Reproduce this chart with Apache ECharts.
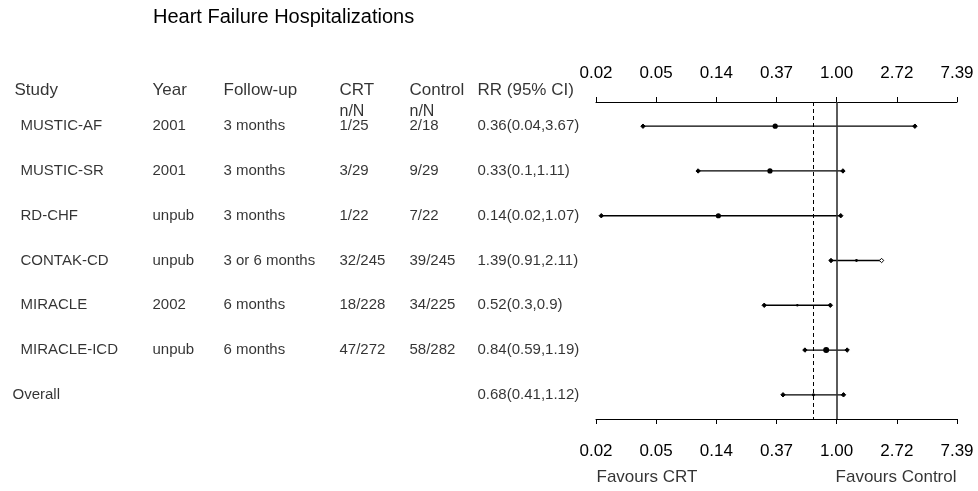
<!DOCTYPE html>
<html><head><meta charset="utf-8">
<script src="https://cdn.jsdelivr.net/npm/echarts@6/dist/echarts.min.js"></script>
<style>html,body{margin:0;padding:0;background:#fff}#c{width:978px;height:491px}</style>
</head><body><div id="c"></div>
<script>
// ---------- data ----------
const studies   = ['MUSTIC-AF','MUSTIC-SR','RD-CHF','CONTAK-CD','MIRACLE','MIRACLE-ICD','Overall'];
const years     = ['2001','2001','unpub','unpub','2002','unpub',''];
const followUp  = ['3 months','3 months','3 months','3 or 6 months','6 months','6 months',''];
const crt       = ['1/25','3/29','1/22','32/245','18/228','47/272',''];
const control   = ['2/18','9/29','7/22','39/245','34/225','58/282',''];
const rr        = [0.36, 0.33, 0.14, 1.39, 0.52, 0.84, 0.68];
const lower     = [0.04, 0.1, 0.02, 0.91, 0.3, 0.59, 0.41];
const upper     = [3.67, 1.11, 1.07, 2.11, 0.9, 1.19, 1.12];
const tickLabels = ['0.02','0.05','0.14','0.37','1.00','2.72','7.39'];
const headers   = ['Study','Year','Follow-up','CRT','Control','RR (95% CI)'];
const subHeaders = ['','','','n/N','n/N',''];
const title = 'Heart Failure Hospitalizations';
const favours = ['Favours CRT','Favours Control'];

// ---------- layout / style ----------
const FONT = 'Liberation Sans, Arial, sans-serif';
const colX = [20, 152, 223, 339, 409, 477];   // study, year, follow-up, crt, control, rr
const headerX = [14, 152, 223, 339, 409, 477];
const overallX = 12;
const headerRowY = -0.80, subHeaderRowY = -0.33, favoursRowY = 7.84;
const markerR = [2.6, 2.6, 2.6, 1.4, 1.2, 3.0, 1.5];
const hollowEnd = [false,false,false,true,false,false,false];
const yMin = -0.54, yMax = 6.54;

const n = studies.length;
const rrText = rr.map((v,i)=> v + '(' + lower[i] + ',' + upper[i] + ')');
const lastIdx = n - 1;

function textSeries(points, fontSize, pos) {
  return {
    type:'scatter', xAxisIndex:2, yAxisIndex:1, symbolSize:1, silent:true, clip:false,
    itemStyle:{color:'transparent'},
    label:{show:true, position:pos||'right', distance:0, color:'#000', fontSize:fontSize, fontFamily:FONT,
      formatter:p=>p.data[2]},
    data:points
  };
}
function forestTextSeries(points, pos) {
  return {
    type:'scatter', xAxisIndex:0, yAxisIndex:0, symbolSize:1, silent:true, clip:false,
    itemStyle:{color:'transparent'},
    label:{show:true, position:pos, distance:0, color:'#000', fontSize:17, fontFamily:FONT,
      formatter:p=>p.data[2]},
    data:points
  };
}

const series = [];
// headers
series.push(textSeries(headers.map((h,j)=>[headerX[j], headerRowY, h]), 17));
series.push(textSeries(subHeaders.map((h,j)=>[headerX[j], subHeaderRowY, h]).filter(d=>d[2]), 16));
// table columns
const cols = [studies, years, followUp, crt, control, rrText];
cols.forEach((col,j)=>{
  series.push(textSeries(col.map((t,i)=>[ (j===0 && i===lastIdx) ? overallX : colX[j], i, t]).filter(d=>d[2]), 15));
});
// favours labels
series.push(forestTextSeries([[-4, favoursRowY, favours[0]]], 'right'));
series.push(forestTextSeries([[2, favoursRowY, favours[1]]], 'left'));

// forest marks
series.push({
  type:'custom', xAxisIndex:0, yAxisIndex:0, clip:false, silent:true,
  data: rr.map((v,i)=>[Math.log(lower[i]), Math.log(upper[i]), Math.log(v), i]),
  encode:{x:[0,1,2], y:3},
  renderItem(params, api){
    const i = params.dataIndex;
    const row = api.value(3);
    const lo = api.coord([api.value(0), row]);
    const hi = api.coord([api.value(1), row]);
    const c  = api.coord([api.value(2), row]);
    const d = 2.2;
    const diamond = (p, hollow)=>({type:'polygon', shape:{points:[[p[0]-d,p[1]],[p[0],p[1]-d],[p[0]+d,p[1]],[p[0],p[1]+d]]},
      style:{fill: hollow ? '#fff' : '#000', stroke:'#000', lineWidth:1}});
    return {type:'group', children:[
      {type:'line', shape:{x1:lo[0], y1:lo[1], x2:hi[0], y2:hi[1]}, style:{stroke:'#000', lineWidth:1.3}},
      diamond(lo, false),
      diamond(hi, hollowEnd[i]),
      {type:'circle', shape:{cx:c[0], cy:c[1], r:markerR[i]}, style:{fill:'#000'}}
    ]};
  }
});
// reference lines
series.push({
  type:'line', xAxisIndex:0, yAxisIndex:0, data:[], silent:true,
  markLine:{silent:true, symbol:['none','none'], label:{show:false}, animation:false,
    data:[
      {xAxis:0, lineStyle:{color:'#333', width:1.6, type:'solid'}},
      {xAxis:Math.log(rr[lastIdx]), lineStyle:{color:'#000', width:1, type:[4,3]}}
    ]}
});

const axisCommon = {
  type:'value', min:-4, max:2, interval:1, gridIndex:0,
  axisLine:{show:true, onZero:false, lineStyle:{color:'#000', width:1}},
  axisTick:{show:true, inside:false, length:5, lineStyle:{color:'#000', width:1}},
  splitLine:{show:false},
};

const option = {
  animation:false,
  backgroundColor:'#fff',
  title:{text:title, left:148, top:2, textStyle:{fontSize:20, fontWeight:'normal', color:'#000', fontFamily:FONT}},
  grid:[
    {left:596, right:21, top:102, bottom:72},
    {left:0, right:0, top:102, bottom:72}
  ],
  xAxis:[
    Object.assign({}, axisCommon, {position:'bottom',
      axisLabel:{margin:24, color:'#000', fontSize:17, fontFamily:FONT, formatter:v=>tickLabels[Math.round(v)+4]}}),
    Object.assign({}, axisCommon, {position:'top',
      axisLabel:{margin:20, color:'#000', fontSize:17, fontFamily:FONT, formatter:v=>tickLabels[Math.round(v)+4]}}),
    {type:'value', gridIndex:1, min:0, max:978, show:false}
  ],
  yAxis:[
    {type:'value', gridIndex:0, min:yMin, max:yMax, inverse:true, show:false},
    {type:'value', gridIndex:1, min:yMin, max:yMax, inverse:true, show:false}
  ],
  series:series
};
const chart = echarts.init(document.getElementById('c'), null, {renderer:'canvas'});
chart.setOption(option);
</script>
</body></html>
